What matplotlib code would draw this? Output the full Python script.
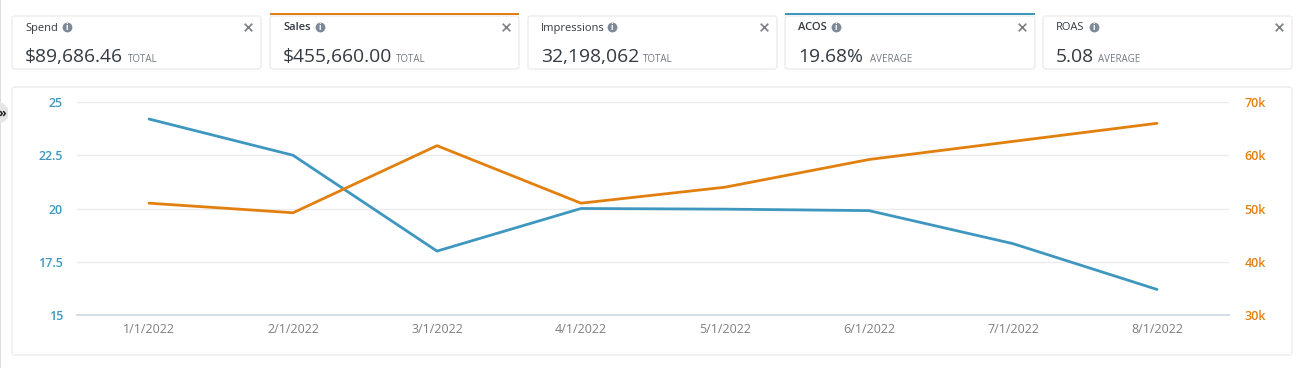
#!/usr/bin/env python3
"""Spend / sales dashboard: metric cards above a dual axis line chart."""
import matplotlib
matplotlib.use("Agg")
import matplotlib.pyplot as plt
from matplotlib.patches import FancyBboxPatch, Rectangle, Polygon

plt.rcParams["font.family"] = ["Open Sans", "DejaVu Sans"]

W, H = 1296, 368

BLUE = "#3f97bf"
ORANGE = "#e2800f"
GRAY = "#7f7f7f"
DARK = "#333a42"

# Data
months = ["1/1/2022", "2/1/2022", "3/1/2022", "4/1/2022",
          "5/1/2022", "6/1/2022", "7/1/2022", "8/1/2022"]
acos = [24.2, 22.5, 18.0, 20.0, 19.97, 19.9, 18.35, 16.2]
sales = [51000, 49200, 61800, 51000, 54000, 59200, 62600, 66000]

left_ticks = [15, 17.5, 20, 22.5, 25]
left_labels = ["15", "17.5", "20", "22.5", "25"]
right_ticks = [30000, 40000, 50000, 60000, 70000]
right_labels = ["30k", "40k", "50k", "60k", "70k"]

card_names = ["Spend", "Sales", "Impressions", "ACOS", "ROAS"]
card_values = ["$89,686.46", "$455,660.00", "32,198,062", "19.68%", "5.08"]
card_kinds = ["TOTAL", "TOTAL", "TOTAL", "AVERAGE", "AVERAGE"]
card_accents = [None, ORANGE, None, BLUE, None]
card_left = [12, 270, 528, 785, 1043]
card_right = [261, 519, 777, 1035, 1292]
# where the info icon and the TOTAL/AVERAGE suffix sit in each card
icon_x = [67, 320, 612, 836, 1094]
kind_x = [128, 396, 643, 870, 1098]


def panel(bg, x0, y0, x1, y1):
    bg.add_patch(FancyBboxPatch((x0, y0), x1 - x0, y1 - y0,
                                boxstyle="round,pad=0,rounding_size=3",
                                fc="white", ec="#ececec", lw=1))


def draw_card(bg, i):
    x0, x1 = card_left[i], card_right[i]
    panel(bg, x0, 16, x1, 69)
    if card_accents[i]:
        bg.add_patch(Rectangle((x0, 13), x1 - x0, 2, fc=card_accents[i], ec="none"))
    bold = card_accents[i] is not None
    tx = x0 + 13
    bg.text(tx, 28, card_names[i], fontsize=8, color=DARK,
            fontweight="semibold" if bold else "normal", va="center")
    bg.scatter([icon_x[i]], [27], s=50, color="#7d8998", lw=0)
    bg.text(icon_x[i], 27, "i", fontsize=6, color="white", fontweight="bold",
            ha="center", va="center")
    bg.scatter([x1 - 13], [27], s=30, marker="x", color="#7b7f84", lw=1.2)
    bg.text(tx, 57, card_values[i], fontsize=13.9, color=DARK, va="center")
    bg.text(kind_x[i], 59.5, card_kinds[i], fontsize=7, color="#737b82", va="center")


fig = plt.figure(figsize=(W / 100, H / 100), dpi=100)

# background layer in pixel coordinates for the cards and panel
bg = fig.add_axes([0, 0, 1, 1])
bg.set_xlim(0, W)
bg.set_ylim(H, 0)
bg.axis("off")

for i in range(len(card_names)):
    draw_card(bg, i)
panel(bg, 12, 87, 1292, 355)

# sidebar edge and its collapse button
bg.add_patch(Rectangle((0, 0), 1, H, fc="#dddddd", ec="none"))
bg.add_patch(Polygon([(0, 102), (4, 104), (8, 108), (8, 118), (4, 122), (0, 124)],
                     fc="#e6e6e6", ec="none"))
bg.text(2, 113.5, "»", fontsize=9, fontweight="bold", color="#222222",
        ha="center", va="center")

# main chart
ax = fig.add_axes([77 / W, 1 - 315 / H, (1229 - 77) / W, (315 - 102) / H])
ax.patch.set_alpha(0)
xs = list(range(len(months)))
ax.plot(xs, acos, color=BLUE, lw=2.0, solid_capstyle="round", zorder=3)
ax.set_xlim(-0.5, len(months) - 0.5)
ax.set_ylim(15, 25)
ax.set_xticks(xs)
ax.set_xticklabels(months, fontsize=9, color=GRAY)
ax.set_yticks(left_ticks)
ax.set_yticklabels(left_labels, fontsize=9, color=BLUE, fontweight="semibold")
ax.tick_params(axis="both", length=0)
ax.tick_params(axis="x", pad=6)
ax.tick_params(axis="y", pad=10)
ax.grid(axis="y", color="#ebebeb", lw=1)
ax.set_axisbelow(True)
for s in ["top", "left", "right"]:
    ax.spines[s].set_visible(False)
ax.spines["bottom"].set_color("#d5dde6")
ax.spines["bottom"].set_linewidth(1.4)

ax2 = ax.twinx()
ax2.plot(xs, sales, color=ORANGE, lw=2.0, solid_capstyle="round", zorder=3)
ax2.set_ylim(30000, 70000)
ax2.set_yticks(right_ticks)
ax2.set_yticklabels(right_labels, fontsize=9, color=ORANGE, fontweight="semibold")
ax2.tick_params(axis="y", length=0, pad=11)
for s in ax2.spines.values():
    s.set_visible(False)

fig.savefig("out.png", dpi=100)
